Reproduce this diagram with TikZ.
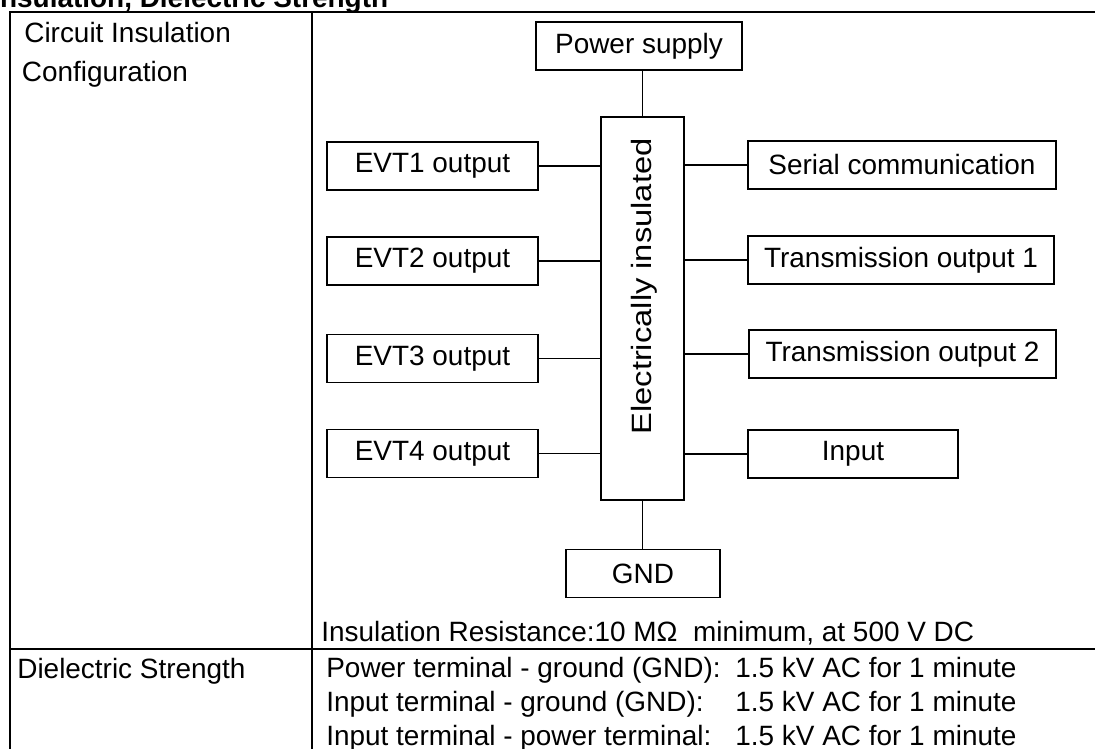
\documentclass[tikz,border=0pt]{standalone}
\usepackage{fontspec}
\usepackage{graphicx}
\setmainfont{Liberation Sans}
\usetikzlibrary{positioning,calc}
\tikzset{
 box/.style={draw, line width=1.1pt, inner sep=0pt, minimum height=0.96cm, align=center},
 link/.style={line width=0.9pt},
 frame/.style={line width=1.3pt},
 txt/.style={anchor=base west, inner sep=0pt}
}

\begin{document}
\begin{tikzpicture}[x=0.02cm,y=-0.02cm,font=\fontsize{15.9}{19}\selectfont]
\useasboundingbox (0,0) rectangle (1095,749);
% table
\draw[frame] (10,760) -- (10,12) -- (1100,12);
\draw[frame] (312,12) -- (312,760);
\draw[frame] (10,649) -- (1100,649);
\node[txt] (title) at (-8,8) {\bfseries Insulation, Dielectric Strength};
\node[txt] (cfg1) at (24,43) {Circuit Insulation};
\node[txt] (cfg2) at (21.5,82) {Configuration};
\node[txt] (diel) at (17,678) {Dielectric Strength};
% diagram
\node[box, rotate=90, minimum width=7.66cm, minimum height=1.66cm] (iso) at (642.5,308.5) {};
\node[rotate=90, inner sep=0pt] (isotxt) at (644.5,286.5) {\scalebox{1.17}[1]{Electrically insulated}};
\node[box, minimum width=4.12cm] (pwr) at (639,46) {Power supply};
\node[box, minimum width=3.08cm] (gnd) at (643,573.5) {GND};
\foreach \n/\y in {1/166,2/261,3/358.5,4/453.5}{
 \node[box, minimum width=4.22cm] (evt\n) at (432.5,\y) {EVT\n{} output};
 \draw[link] (evt\n.east) -- (evt\n.east -| iso.north);
}
\node[box, minimum width=6.16cm] (ser) at (902,165) {Serial communication};
\node[box, minimum width=6.12cm] (tr1) at (901,260) {Transmission output 1};
\node[box, minimum width=6.14cm] (tr2) at (902.5,354) {Transmission output 2};
\node[box, minimum width=4.2cm] (inp) at (853,454) {Input};
\foreach \b in {ser,tr1,tr2,inp}
 \draw[link] (\b.west) -- (\b.west -| iso.south);
\draw[link] (iso.east) -- (iso.east |- pwr.south);
\draw[link] (iso.west) -- (iso.west |- gnd.north);
% ratings
\node[txt] (res) at (321,641) {Insulation Resistance:10 MΩ~ minimum, at 500 V DC};
\foreach \k/\y/\t in {1/677/{Power terminal - ground (GND):},2/711/{Input terminal - ground (GND):},3/745/{Input terminal - power terminal:}}{
 \node[txt] (term\k) at (326,\y) {\t};
 \node[txt] (val\k) at (735,\y) {1.5 kV AC for 1 minute};
}
\end{tikzpicture}
\end{document}
